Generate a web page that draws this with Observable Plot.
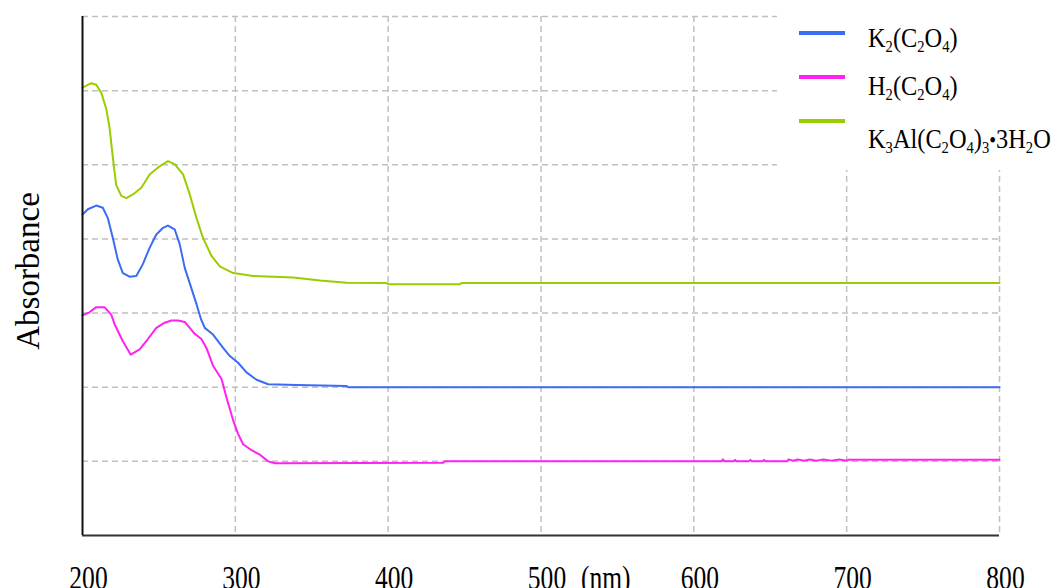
<!DOCTYPE html>
<html>
<head>
<meta charset="utf-8">
<script src="https://cdn.jsdelivr.net/npm/d3@7"></script>
<script src="https://cdn.jsdelivr.net/npm/@observablehq/plot@0.6"></script>
<style>
  html, body { margin: 0; padding: 0; background: #fff; }
  #wrap { position: relative; width: 1061px; height: 588px; overflow: hidden; font-family: "Liberation Serif", "Times New Roman", serif; }
  #wrap svg text { font-family: "Liberation Serif", "Times New Roman", serif !important; }
  #legend { position: absolute; left: 777px; top: 0; width: 284px; height: 170px; background: #fff; }
  .lg-line { position: absolute; left: 22px; width: 46px; height: 4px; }
  .lg-text { position: absolute; left: 91px; font-size: 28px; line-height: 28px; white-space: nowrap; transform: scaleX(0.87); transform-origin: left center; color: #000; }
  .lg-text sub { font-size: 0.6em; line-height: 0; vertical-align: -0.3em; }
  .lg-text .dot { font-size: 0.8em; }
</style>
</head>
<body>
<div id="wrap"><div id="legend"></div></div>
<script>
// ---- data ----
const xTicks = [200, 300, 400, 500, 600, 700, 800];
const yGrid = [1, 2, 3, 4, 5, 6, 7];
const unitTick = 500;
const unitLabel = "(nm)";
const yLabel = "Absorbance";

const seriesNames = [
  "K<sub>2</sub>(C<sub>2</sub>O<sub>4</sub>)",
  "H<sub>2</sub>(C<sub>2</sub>O<sub>4</sub>)",
  "K<sub>3</sub>Al(C<sub>2</sub>O<sub>4</sub>)<sub>3</sub><span class=\"dot\">•</span>3H<sub>2</sub>O"
];
const seriesColors = ["#3a6cf4", "#ff22ee", "#9acd00"];

const k2Wl  = [200, 203.5, 209, 213.3, 216.6, 219.9, 223.1, 226.4, 230.8, 235.2, 239.5, 243.9, 248.3, 252.7, 255.9, 260.3, 263.6, 266.9, 270.2, 274.6, 277.5, 280, 285.4, 292, 296.4, 301.8, 307.3, 313.9, 321.5, 340.1, 372.9, 374, 800];
const k2Abs = [4.33, 4.40, 4.45, 4.42, 4.28, 4.01, 3.72, 3.54, 3.49, 3.50, 3.66, 3.88, 4.06, 4.15, 4.18, 4.13, 3.93, 3.61, 3.40, 3.12, 2.92, 2.80, 2.71, 2.53, 2.42, 2.33, 2.20, 2.10, 2.04, 2.03, 2.015, 2.00, 2.00];

const h2Wl  = [200, 204.6, 209, 214.4, 218.8, 221, 226.4, 231.5, 237.4, 242.8, 248.3, 253.8, 258.2, 262.5, 266.9, 270.2, 273.4, 277.8, 281.1, 285.4, 291, 294.2, 298.6, 301.8, 305.1, 310.6, 316.1, 321.5, 325.9, 436, 437, 618, 619, 620, 626, 627, 628, 636, 637, 638, 645, 646, 647, 661, 662, 665, 668, 672, 676, 680, 685, 690, 695, 700, 701, 800];
const h2Abs = [2.97, 3.01, 3.08, 3.08, 2.98, 2.85, 2.62, 2.44, 2.51, 2.65, 2.80, 2.87, 2.90, 2.90, 2.88, 2.80, 2.72, 2.65, 2.53, 2.29, 2.11, 1.86, 1.55, 1.37, 1.23, 1.15, 1.09, 1.00, 0.975, 0.98, 1.00, 1.00, 1.025, 1.00, 1.00, 1.02, 1.00, 1.00, 1.02, 1.00, 1.00, 1.02, 1.00, 1.00, 1.025, 1.01, 1.025, 1.01, 1.025, 1.01, 1.025, 1.01, 1.025, 1.01, 1.02, 1.02];

const kalWl  = [200, 205.7, 209, 212.3, 215.5, 217.7, 219.9, 222, 225.4, 228.7, 233, 238.5, 243.9, 250.5, 255.9, 260.3, 265.8, 270.2, 274.6, 278.9, 284.4, 289.8, 298.6, 311.7, 337.9, 355.4, 372.9, 399, 400, 447, 448, 800];
const kalAbs = [6.04, 6.10, 6.08, 5.97, 5.76, 5.50, 5.09, 4.73, 4.58, 4.55, 4.60, 4.69, 4.87, 4.98, 5.05, 5.01, 4.87, 4.60, 4.28, 4.01, 3.77, 3.63, 3.54, 3.50, 3.48, 3.44, 3.41, 3.405, 3.39, 3.39, 3.405, 3.405];

const toRows = (wl, ab) => wl.map((w, i) => ({wl: w, abs: ab[i]}));
const series = [toRows(k2Wl, k2Abs), toRows(h2Wl, h2Abs), toRows(kalWl, kalAbs)];

const gridStyle = {stroke: "#c0c0c0", strokeOpacity: 1, strokeWidth: 1.5, strokeDasharray: "6,4"};

const chart = Plot.plot({
  width: 1061,
  height: 588,
  marginLeft: 82,
  marginRight: 62,
  marginTop: 16,
  marginBottom: 53,
  style: {background: "white", color: "black", overflow: "visible"},
  x: {domain: [200, 800], axis: null},
  y: {domain: [0, 7], axis: null},
  marks: [
    Plot.gridX(xTicks.slice(1), gridStyle),
    Plot.gridY(yGrid, gridStyle),
    ...series.map((rows, i) => Plot.line(rows, {x: "wl", y: "abs", stroke: seriesColors[i], strokeWidth: 2})),
    Plot.ruleX([200], {stroke: "#111", strokeWidth: 2}),
    Plot.ruleY([0], {stroke: "#333", strokeWidth: 2}),
    Plot.axisX({ticks: xTicks, tickSize: 0, tickPadding: 29, fontSize: 34, dx: 6, label: null, tickFormat: (d) => String(d)}),
    Plot.text([unitTick], {x: (d) => d, text: () => unitLabel, frameAnchor: "bottom", lineAnchor: "top", textAnchor: "start", dx: 40, dy: 29, fontSize: 34, fill: "black"}),
    Plot.text([yLabel], {text: (d) => d, frameAnchor: "left", rotate: -90, lineAnchor: "bottom", textAnchor: "middle", dx: -44, dy: -5, fontSize: 33, fill: "black"})
  ]
});

const wrap = document.getElementById("wrap");
wrap.insertBefore(chart, wrap.firstChild);

// condense bottom tick labels horizontally like the reference
chart.querySelectorAll("text").forEach((t) => {
  const bb = t.getBBox();
  const m = t.getCTM();
  const yScreen = m ? m.f + bb.y : bb.y;
  if (yScreen > 545) {
    const w = t.getComputedTextLength();
    if (w > 0) {
      t.setAttribute("textLength", (w * 0.75).toFixed(1));
      t.setAttribute("lengthAdjust", "spacingAndGlyphs");
    }
  }
});

// legend (HTML overlay)
const legend = document.getElementById("legend");
const lineTops = [33, 77, 121];
const baselines = [47, 95, 148];
seriesNames.forEach((name, i) => {
  const ln = document.createElement("div");
  ln.className = "lg-line";
  ln.style.top = (lineTops[i] - 2) + "px";
  ln.style.background = seriesColors[i];
  legend.appendChild(ln);
  const tx = document.createElement("div");
  tx.className = "lg-text";
  tx.style.top = (baselines[i] - 23.4) + "px";
  tx.innerHTML = name;
  legend.appendChild(tx);
});
</script>
</body>
</html>
